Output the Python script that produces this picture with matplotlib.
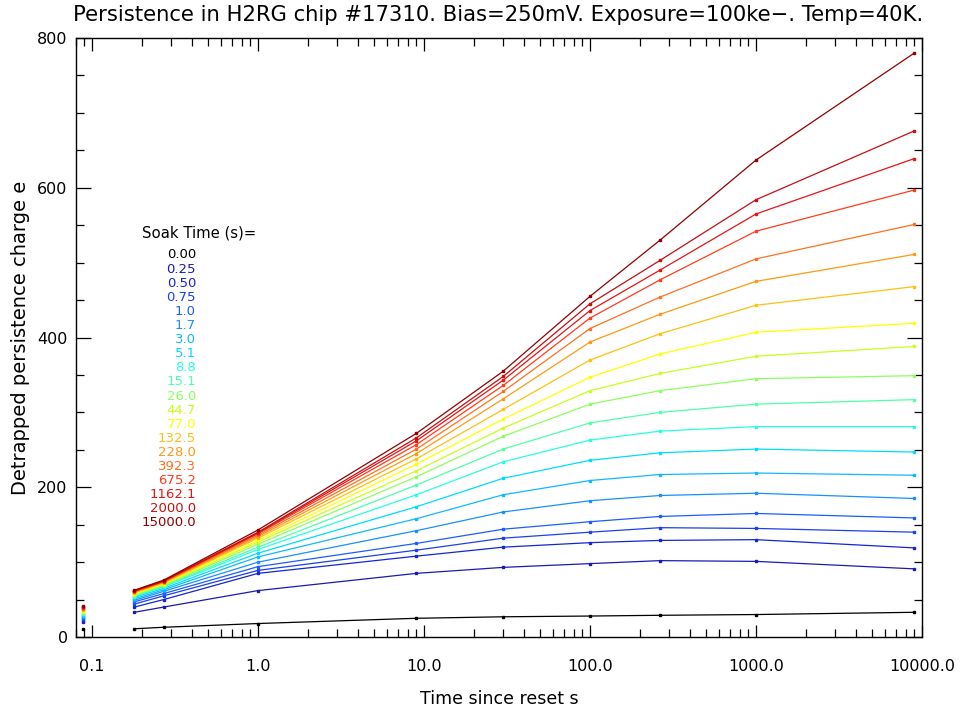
import matplotlib
matplotlib.use("Agg")
import matplotlib.pyplot as plt
from matplotlib.ticker import FixedLocator, NullFormatter, FixedFormatter

# ---------------- data ----------------
soak_labels = ["0.00", "0.25", "0.50", "0.75", "1.0", "1.7", "3.0", "5.1", "8.8",
               "15.1", "26.0", "44.7", "77.0", "132.5", "228.0", "392.3", "675.2",
               "1162.1", "2000.0", "15000.0"]

soak_colors = ["#000000", "#1a1ab4", "#1426d2", "#1c40ea", "#1e5cff", "#1890ff",
               "#10b8ff", "#00dcff", "#28ffe0", "#50ffa8", "#8cff60", "#c8ff1c",
               "#ffff00", "#ffc010", "#ff9a10", "#ff7020", "#ff3c1c", "#e81414",
               "#c41010", "#900000"]

# times since reset (s) at which values were read
times = [0.18, 0.27, 1.0, 9.0, 30.0, 100.0, 264.0, 1000.0, 9000.0]

q_0_00 = [11, 13, 18, 25, 27, 28, 29, 30, 33]
q_0_25 = [33, 40, 62, 85, 93, 98, 102, 101, 91]
q_0_50 = [40, 50, 85, 108, 120, 126, 129, 130, 119]
q_0_75 = [44, 55, 89, 116, 132, 140, 146, 145, 140]
q_1_0 = [47, 58, 94, 125, 144, 154, 161, 165, 159]
q_1_7 = [49, 61, 100, 142, 167, 182, 189, 192, 185]
q_3_0 = [51, 63, 107, 158, 190, 209, 217, 219, 216]
q_5_1 = [53, 65, 112, 174, 212, 236, 246, 251, 247]
q_8_8 = [54, 67, 117, 190, 234, 263, 275, 281, 281]
q_15_1 = [55, 68, 120, 203, 251, 286, 300, 311, 317]
q_26_0 = [56, 69, 124, 214, 268, 311, 329, 345, 349]
q_44_7 = [57, 70, 127, 222, 279, 329, 352, 375, 388]
q_77_0 = [58, 71, 129, 231, 291, 347, 378, 407, 419]
q_132_5 = [59, 72, 132, 238, 304, 370, 405, 443, 468]
q_228_0 = [60, 73, 134, 245, 318, 394, 431, 475, 511]
q_392_3 = [60.5, 73.5, 136, 251, 328, 412, 454, 505, 551]
q_675_2 = [61, 74, 138, 257, 336, 426, 477, 542, 597]
q_1162_1 = [61.5, 74.5, 139, 262, 343, 436, 490, 565, 639]
q_2000_0 = [62, 75, 140, 266, 348, 445, 503, 584, 676]
q_15000_0 = [62.5, 76, 143, 272, 355, 455, 530, 637, 780]

# values of the small marks drawn near t = 0.088 s
t_pre = 0.088
q_pre = [11, 20, 22, 24, 25, 27, 28, 30, 31, 32, 33, 34, 35, 36, 37, 38, 39, 40, 40.5, 41]

series = [q_0_00, q_0_25, q_0_50, q_0_75, q_1_0, q_1_7, q_3_0, q_5_1, q_8_8,
          q_15_1, q_26_0, q_44_7, q_77_0, q_132_5, q_228_0, q_392_3, q_675_2,
          q_1162_1, q_2000_0, q_15000_0]

x_major = [0.1, 1.0, 10.0, 100.0, 1000.0, 10000.0]
x_major_labels = ["0.1", "1.0", "10.0", "100.0", "1000.0", "10000.0"]
y_major = [0, 200, 400, 600, 800]

# ---------------- figure ----------------
plt.rcParams['font.family'] = ['DejaVu Sans']
W, H = 963, 709
fig = plt.figure(figsize=(W / 100, H / 100), dpi=100)
ax_l, ax_r, ax_t, ax_b = 76, 922, 38, 637
ax = fig.add_axes([ax_l / W, 1 - ax_b / H, (ax_r - ax_l) / W, (ax_b - ax_t) / H])

ax.set_xscale("log")
ax.set_xlim(0.08, 10000)
ax.set_ylim(0, 800)

for vals, col in zip(series, soak_colors):
    ax.plot(times, vals, color=col, lw=0.9, solid_joinstyle="round")
    ax.plot(times, vals, ls="none", marker="s", ms=1.8, mec=col, mfc=col)

for v, col in zip(q_pre, soak_colors):
    ax.plot([t_pre], [v], ls="none", marker="s", ms=1.8, mec=col, mfc=col)

# ticks
minor = []
for d in [0.01, 0.1, 1, 10, 100, 1000]:
    for k in range(2, 10):
        val = d * k
        if 0.08 <= val <= 10000:
            minor.append(val)
ax.xaxis.set_major_locator(FixedLocator(x_major))
ax.xaxis.set_major_formatter(FixedFormatter(x_major_labels))
ax.xaxis.set_minor_locator(FixedLocator(minor))
ax.xaxis.set_minor_formatter(NullFormatter())
ax.yaxis.set_major_locator(FixedLocator(y_major))
ax.yaxis.set_minor_locator(FixedLocator(list(range(0, 801, 50))))

ax.tick_params(axis="x", which="major", direction="in", length=9, width=0.9,
               top=True, bottom=True, pad=16, labelsize=11.5)
ax.tick_params(axis="x", which="minor", direction="in", length=5.5, width=0.9,
               top=True, bottom=True)
ax.tick_params(axis="y", which="major", direction="in", length=11, width=0.9,
               left=True, right=True, pad=6, labelsize=11.5)
ax.tick_params(axis="y", which="minor", direction="in", length=6, width=0.9,
               left=True, right=True)
for s in ax.spines.values():
    s.set_linewidth(1.0)

ax.set_xlabel("Time since reset s", fontsize=12.5, labelpad=11)
ax.set_ylabel("Detrapped persistence charge e", fontsize=14, labelpad=5)

fig.text(0.517, 1 - 15 / H,
         "Persistence in H2RG chip #17310. Bias=250mV. Exposure=100ke\u2212. Temp=40K.",
         ha="center", va="center", fontsize=15.2)

# soak-time legend
def ax_frac(px, py):
    return ((px - ax_l) / (ax_r - ax_l), (ax_b - py) / (ax_b - ax_t))

fx, fy = ax_frac(142, 233)
ax.text(fx, fy, "Soak Time (s)=", transform=ax.transAxes, ha="left", va="center",
        fontsize=10.7)
y0, dy = 255, (523 - 255) / (len(soak_labels) - 1)
for i, (lab, col) in enumerate(zip(soak_labels, soak_colors)):
    fx, fy = ax_frac(196, y0 + i * dy)
    ax.text(fx, fy, lab, transform=ax.transAxes, ha="right", va="center",
            fontsize=9.5, color=col)

fig.savefig("out.png", dpi=100)
